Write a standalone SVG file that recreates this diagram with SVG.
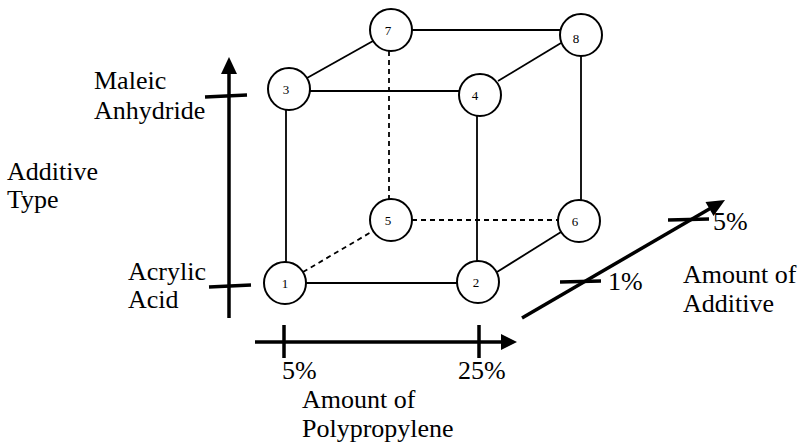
<svg xmlns="http://www.w3.org/2000/svg" width="801" height="445" viewBox="0 0 801 445">
<style>
.edge{stroke:#000;stroke-width:1.8;fill:none}
.dash{stroke-dasharray:5,4}
.node circle{fill:#fff;stroke:#000;stroke-width:2}
.node text{font-family:"Liberation Serif",serif;font-size:13px;text-anchor:middle;fill:#000}
.axis{stroke:#000;stroke-width:3.5;fill:none}
.tick{stroke:#000;stroke-width:3.5}
.lbl{font-family:"Liberation Serif",serif;font-size:26px;fill:#000}
</style>
<rect width="801" height="445" fill="#fff"/>
<g id="axes">
<line class="axis" x1="229" y1="318" x2="229" y2="72"/>
<polygon points="229,57 221,74 237,74" fill="#000"/>
<line class="tick" x1="205" y1="97" x2="247" y2="95"/>
<line class="tick" x1="209" y1="287" x2="251" y2="285"/>
<line class="axis" x1="255" y1="342" x2="503" y2="342"/>
<polygon points="517,342 501,334 501,350" fill="#000"/>
<line class="tick" x1="284" y1="325" x2="284" y2="358"/>
<line class="tick" x1="479" y1="325" x2="479" y2="358"/>
<line class="axis" x1="522" y1="318" x2="711" y2="208"/>
<polygon points="725,200 713.5,215.9 705.5,202.1" fill="#000"/>
<line class="tick" x1="668" y1="220" x2="709" y2="219"/>
<line class="tick" x1="560" y1="282" x2="601" y2="281"/>
</g>
<g id="labels" class="lbl">
<text x="94" y="89">Maleic</text>
<text x="94" y="119">Anhydride</text>
<text x="7" y="180">Additive</text>
<text x="7" y="208">Type</text>
<text x="128" y="280">Acrylic</text>
<text x="128" y="308">Acid</text>
<text x="282" y="379">5%</text>
<text x="458" y="379">25%</text>
<text x="302" y="408">Amount of</text>
<text x="302" y="437">Polypropylene</text>
<text x="713" y="230">5%</text>
<text x="608" y="290">1%</text>
<text x="683" y="283">Amount of</text>
<text x="683" y="312">Additive</text>
</g>
<g id="connectors">
<line class="edge" x1="306" y1="283" x2="457" y2="283"/>
<line class="edge" x1="310" y1="91" x2="459" y2="91"/>
<line class="edge" x1="412" y1="30" x2="560" y2="30"/>
<line class="edge" x1="286" y1="262" x2="286" y2="110"/>
<line class="edge" x1="477" y1="261" x2="477" y2="116"/>
<line class="edge" x1="581" y1="200" x2="581" y2="56"/>
<line class="edge" x1="307" y1="78" x2="373" y2="41"/>
<line class="edge" x1="498" y1="81" x2="561" y2="43"/>
<line class="edge" x1="497" y1="272" x2="561" y2="232"/>
<line class="edge dash" x1="303" y1="272" x2="373" y2="231"/>
<line class="edge dash" x1="412" y1="220" x2="558" y2="220"/>
<line class="edge dash" x1="389" y1="51" x2="389" y2="199"/>
</g>
<g id="node1" class="node"><circle cx="285" cy="283" r="21"/><text x="285" y="288">1</text></g>
<g id="node2" class="node"><circle cx="478" cy="282" r="21"/><text x="476" y="287">2</text></g>
<g id="node3" class="node"><circle cx="289" cy="89" r="21"/><text x="286" y="94">3</text></g>
<g id="node4" class="node"><circle cx="480" cy="95" r="21"/><text x="475" y="100">4</text></g>
<g id="node5" class="node"><circle cx="391" cy="220" r="21"/><text x="388" y="225">5</text></g>
<g id="node6" class="node"><circle cx="579" cy="221" r="21"/><text x="575" y="226">6</text></g>
<g id="node7" class="node"><circle cx="391" cy="30" r="21"/><text x="388" y="35">7</text></g>
<g id="node8" class="node"><circle cx="581" cy="35" r="21"/><text x="576" y="43">8</text></g>
</svg>
